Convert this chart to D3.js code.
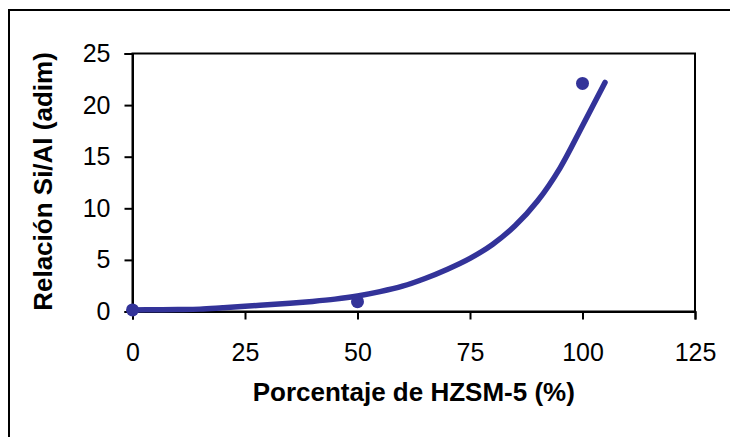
<!DOCTYPE html>
<html>
<head>
<meta charset="utf-8">
<script src="https://cdn.jsdelivr.net/npm/d3@7"></script>
<style>
  body { margin: 0; background: #fff; }
  svg { display: block; font-family: "Liberation Sans", Arial, sans-serif; }
</style>
</head>
<body>
<svg id="chart" width="730" height="437"></svg>
<script>
// fitted curve
var curveX = [0, 5, 10, 15, 20, 25, 30, 35, 40, 45, 50, 55, 60, 65, 70, 75, 80, 85, 90, 95, 100, 105];
var curveY = [0.15, 0.17, 0.19, 0.23, 0.36, 0.5, 0.65, 0.8, 0.98, 1.2, 1.5, 1.92, 2.45, 3.2, 4.1, 5.15, 6.5, 8.3, 10.7, 13.9, 18.0, 22.2];

// measured points
var pointX = [0, 50, 100];
var pointY = [0.15, 0.95, 22.1];

var xTicks = [0, 25, 50, 75, 100, 125];
var yTicks = [0, 5, 10, 15, 20, 25];

var svg = d3.select("#chart");
var color = "#333399";

// outer frame (runs off the right and bottom of the picture)
svg.append("rect")
    .attr("x", 9).attr("y", 10)
    .attr("width", 800).attr("height", 500)
    .attr("fill", "none")
    .attr("stroke", "#000")
    .attr("stroke-width", 2);

var margin = {top: 53.5, left: 132.5},
    width = 562.5,
    height = 258;

var g = svg.append("g")
    .attr("transform", "translate(" + margin.left + "," + margin.top + ")");

var x = d3.scaleLinear().domain([0, 125]).range([0, width]);
var y = d3.scaleLinear().domain([0, 25]).range([height, 0]);

// plot area box
g.append("rect")
    .attr("width", width).attr("height", height)
    .attr("fill", "none")
    .attr("stroke", "#000")
    .attr("stroke-width", 2);

// axes
var xAxis = g.append("g")
    .attr("transform", "translate(0," + height + ")")
    .call(d3.axisBottom(x).tickValues(xTicks).tickSize(8).tickPadding(24).tickFormat(d3.format("d")));

var yAxis = g.append("g")
    .call(d3.axisLeft(y).tickValues(yTicks).tickSize(8).tickPadding(14).tickFormat(d3.format("d")));

[xAxis, yAxis].forEach(function(a) {
    a.select(".domain").attr("stroke-width", 2).attr("stroke", "#000");
    a.selectAll(".tick line").attr("stroke-width", 2).attr("stroke", "#000");
    a.selectAll(".tick text")
        .attr("fill", "#000")
        .style("font-size", "25px")
        .style("font-family", "Liberation Sans, Arial, sans-serif");
});

// curve
var curveData = curveX.map(function(d, i) { return [d, curveY[i]]; });
var line = d3.line()
    .x(function(d) { return x(d[0]); })
    .y(function(d) { return y(d[1]); })
    .curve(d3.curveCatmullRom);

g.append("path")
    .datum(curveData)
    .attr("d", line)
    .attr("fill", "none")
    .attr("stroke", color)
    .attr("stroke-width", 5.5)
    .attr("stroke-linecap", "round")
    .attr("stroke-linejoin", "round");

// points
g.selectAll(".pt")
    .data(pointX.map(function(d, i) { return [d, pointY[i]]; }))
    .enter()
    .append("circle")
        .attr("class", "pt")
        .attr("cx", function(d) { return x(d[0]); })
        .attr("cy", function(d) { return y(d[1]); })
        .attr("r", 6.5)
        .attr("fill", color);

// axis titles
svg.append("text")
    .attr("x", margin.left + width / 2)
    .attr("y", 401)
    .attr("text-anchor", "middle")
    .style("font-size", "26px")
    .style("font-weight", "bold")
    .text("Porcentaje de HZSM-5 (%)");

svg.append("text")
    .attr("transform", "translate(52," + (margin.top + height / 2 - 1) + ") rotate(-90)")
    .attr("text-anchor", "middle")
    .style("font-size", "26px")
    .style("font-weight", "bold")
    .text("Relación Si/Al (adim)");
</script>
</body>
</html>
